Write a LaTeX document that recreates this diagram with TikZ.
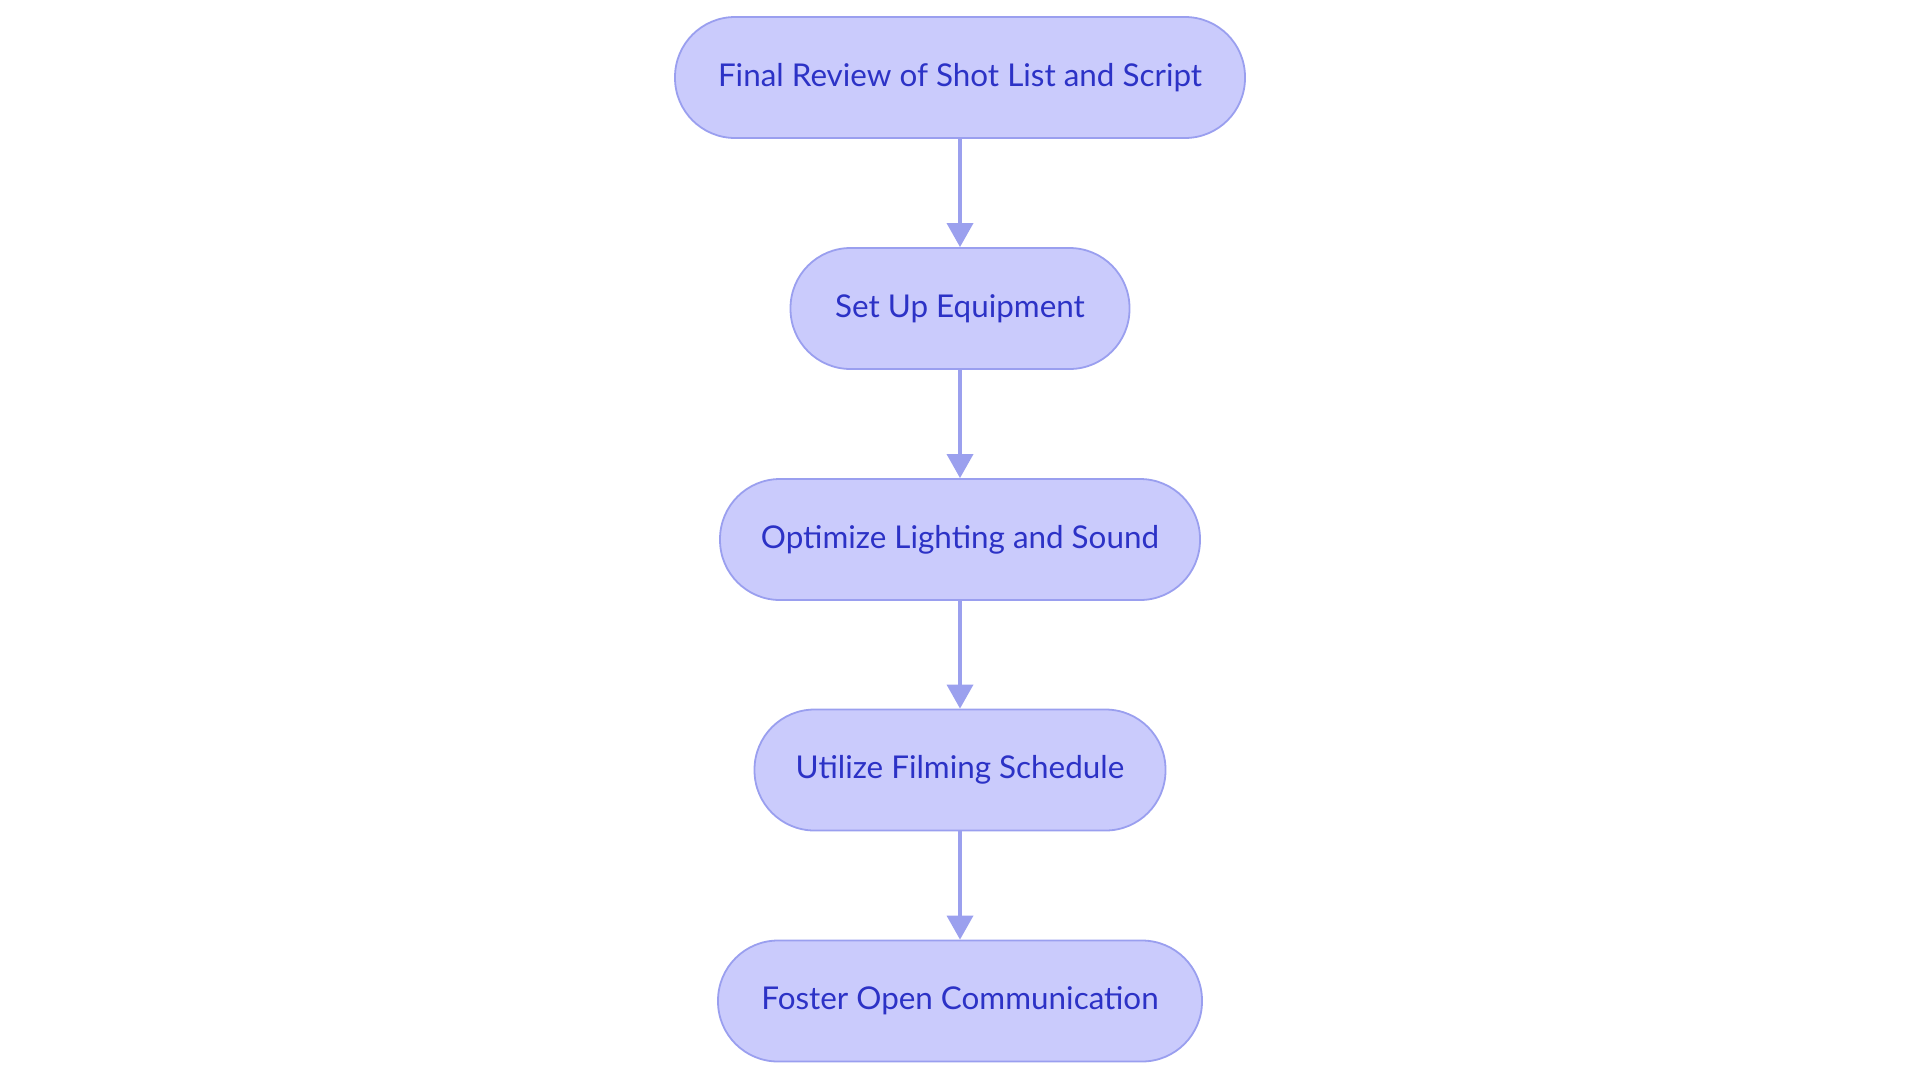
\documentclass[tikz,border=0pt]{standalone}
\usepackage{fontspec}
\setmainfont{Lato}
\usetikzlibrary{arrows.meta}
\definecolor{boxfill}{HTML}{CACBFC}
\definecolor{boxline}{HTML}{9A9FEF}
\definecolor{boxtext}{HTML}{2C32C6}
\definecolor{arrowcol}{HTML}{9BA0EE}
\tikzset{
  stepbox/.style={draw=boxline, fill=boxfill, line width=0.9pt, rounded corners=30pt,
    minimum height=60.5pt, inner xsep=0pt, text=boxtext, font=\fontsize{15.7pt}{18pt}\selectfont},
  flow/.style={draw=arrowcol, line width=1.8pt, -{Triangle[width=13pt,length=12pt]}}
}
\begin{document}
\begin{tikzpicture}[x=0.5pt,y=-0.5pt]
\useasboundingbox (0,0) rectangle (1920,1083);
\node[stepbox, minimum width=285pt] (a) at (960,77.5) {Final Review of Shot List and Script};
\node[stepbox, minimum width=169.5pt] (b) at (960,308.5) {Set Up Equipment};
\node[stepbox, minimum width=240pt] (c) at (960,539.5) {Optimize Lighting and Sound};
\node[stepbox, minimum width=205.5pt] (d) at (960,770) {Utilize Filming Schedule};
\node[stepbox, minimum width=242pt] (e) at (960,1001) {Foster Open Communication};
\draw[flow] (a) -- (b);
\draw[flow] (b) -- (c);
\draw[flow] (c) -- (d);
\draw[flow] (d) -- (e);
\end{tikzpicture}
\end{document}
